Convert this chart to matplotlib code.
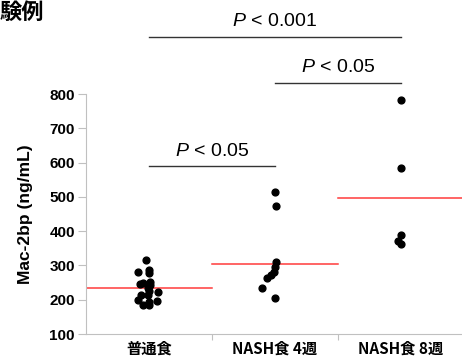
import matplotlib
matplotlib.use('Agg')
import matplotlib.pyplot as plt
import numpy as np

plt.rcParams['font.family'] = ['Liberation Sans', 'Noto Sans CJK JP', 'DejaVu Sans']
plt.rcParams['mathtext.fontset'] = 'custom'
plt.rcParams['mathtext.it'] = 'Liberation Sans:italic'
plt.rcParams['mathtext.rm'] = 'Liberation Sans'

## data
groups = ['普通食', 'NASH食 4週', 'NASH食 8週']
vals_normal = [316, 282, 287, 277, 246, 248, 253, 243, 234, 224, 214, 222, 214, 199, 197, 185, 185, 194]
jit_normal = [-0.02, -0.09, 0.0, 0.0, -0.07, -0.05, 0.01, 0.01, -0.01, 0.0, -0.06, 0.07, -0.01, -0.09, 0.06, -0.05, 0.0, 0.0]
vals_4w = [515, 474, 309, 296, 282, 272, 263, 234, 206]
jit_4w = [0.0, 0.01, 0.01, 0.0, -0.01, -0.03, -0.06, -0.10, 0.0]
vals_8w = [782, 585, 389, 371, 362]
jit_8w = [0.0, 0.0, 0.0, -0.02, 0.0]
means = [234, 304, 498]
yticks = [100, 200, 300, 400, 500, 600, 700, 800]

## significance bars: (x1, x2, y of bar, label, y of label)
sig = [(0, 2, 967, '< 0.001', 1012),
       (1, 2, 832, '< 0.05', 876),
       (0, 1, 590, '< 0.05', 633)]

fig = plt.figure(figsize=(4.62, 3.63), dpi=100)
ax = fig.add_axes([86/462, 29/363, 378/462, 240/363])

all_vals = [vals_normal, vals_4w, vals_8w]
all_jit = [jit_normal, jit_4w, jit_8w]
for i in range(3):
    x = i + np.array(all_jit[i])
    ax.scatter(x, all_vals[i], s=24, color='black', zorder=3, clip_on=False)
    ax.plot([i - 0.5, i + 0.5], [means[i], means[i]], color='#ff3b3b', lw=1.1, zorder=2)

for x1, x2, y, lab, ty in sig:
    ax.plot([x1, x2], [y, y], color='#333333', lw=1.0, clip_on=False)
    ax.text((x1 + x2) / 2, ty, r'$\it{P}$ ' + lab, ha='center', va='center',
            fontsize=14, clip_on=False)

ax.set_xlim(-0.5, 2.5)
ax.set_ylim(100, 800)
ax.set_yticks(yticks)
ax.set_yticklabels([str(t) for t in yticks], fontsize=11, fontweight='bold')
ax.set_xticks([0.5, 1.5])
ax.set_xticklabels([])
ax.set_xticks([0, 1, 2], minor=True)
ax.set_xticklabels(groups, minor=True, fontsize=11, fontweight='bold',
                   family=['Noto Sans CJK JP', 'DejaVu Sans'])
ax.tick_params(axis='x', which='minor', length=0, pad=5)
ax.tick_params(axis='x', which='major', length=4, color='#c0c0c0')
ax.tick_params(axis='y', length=6, color='#c0c0c0', pad=2)
ax.set_ylabel('Mac-2bp (ng/mL)', fontsize=12.5, fontweight='bold', labelpad=12)

for s in ['top', 'right']:
    ax.spines[s].set_visible(False)
for s in ['left', 'bottom']:
    ax.spines[s].set_color('#c0c0c0')

fig.text(0.0, 0.998, '験例', fontsize=16, fontweight='bold', va='top', ha='left',
         family=['Noto Sans CJK JP', 'DejaVu Sans'])

plt.savefig('out.png', dpi=100)
